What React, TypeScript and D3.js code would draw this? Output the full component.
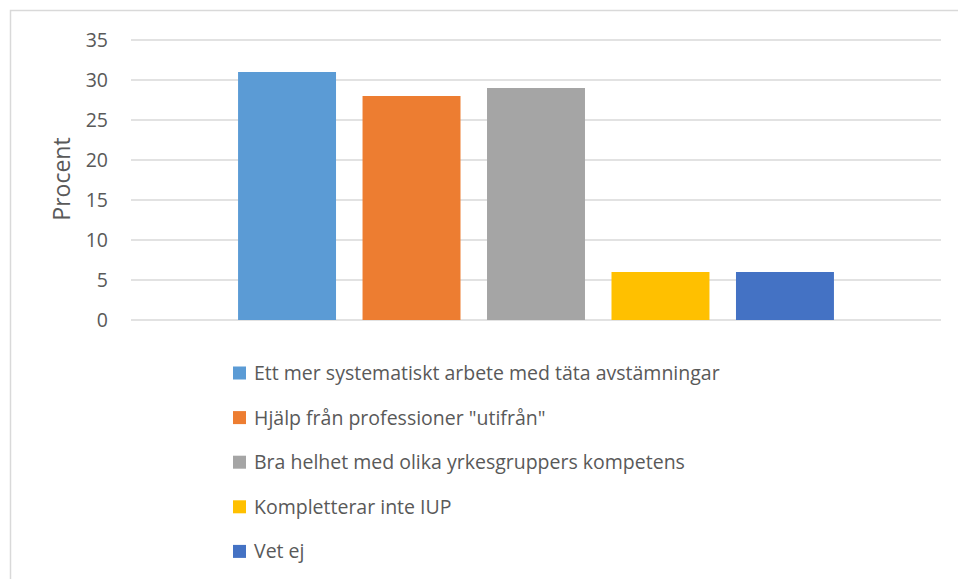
import { useEffect, useRef } from 'react';
import * as d3 from 'd3';

const series = [
  'Ett mer systematiskt arbete med täta avstämningar',
  'Hjälp från professioner "utifrån"',
  'Bra helhet med olika yrkesgruppers kompetens',
  'Kompletterar inte IUP',
  'Vet ej',
];
const values = [31, 28, 29, 6, 6];
const colors = ['#5b9bd5', '#ed7d31', '#a5a5a5', '#ffc000', '#4472c4'];
const yTicks = [0, 5, 10, 15, 20, 25, 30, 35];

function App() {
  const svgRef = useRef<SVGSVGElement>(null);

  useEffect(() => {
    if (!svgRef.current) return;
    const svg = d3.select(svgRef.current);
    svg.selectAll('*').remove();

    const width = 958;
    const height = 579;
    const font = '"Open Sans", sans-serif';
    const textColor = '#595959';

    // chart area border (right/bottom edges fall outside the picture)
    svg.append('rect')
      .attr('x', 10.5).attr('y', 10.5)
      .attr('width', width + 20).attr('height', height)
      .attr('fill', '#fff').attr('stroke', '#d9d9d9').attr('stroke-width', 1.5);

    const left = 131;
    const right = 941;
    const y = d3.scaleLinear().domain([0, 35]).range([320, 40]);
    const x = d3.scaleBand<string>()
      .domain(series)
      .range([left, right])
      .paddingInner(0.213)
      .paddingOuter(0.86);

    svg.append('g')
      .selectAll('line')
      .data(yTicks)
      .join('line')
      .attr('x1', left).attr('x2', right)
      .attr('y1', d => y(d)).attr('y2', d => y(d))
      .attr('stroke', '#d9d9d9').attr('stroke-width', 1.3);

    svg.append('g')
      .selectAll('text')
      .data(yTicks)
      .join('text')
      .attr('x', 108).attr('y', d => y(d))
      .attr('dy', '0.36em')
      .attr('text-anchor', 'end')
      .attr('font-family', font).attr('font-size', 19.5)
      .attr('fill', textColor)
      .text(d => d);

    svg.append('text')
      .attr('transform', `translate(70, 179) rotate(-90)`)
      .attr('text-anchor', 'middle')
      .attr('font-family', font).attr('font-size', 23)
      .attr('fill', textColor)
      .text('Procent');

    svg.append('g')
      .selectAll('rect')
      .data(values)
      .join('rect')
      .attr('x', (d, i) => x(series[i])!)
      .attr('width', x.bandwidth())
      .attr('y', d => y(d))
      .attr('height', d => y(0) - y(d))
      .attr('fill', (d, i) => colors[i]);

    const legend = svg.append('g')
      .selectAll('g')
      .data(series)
      .join('g')
      .attr('transform', (d, i) => `translate(233, ${373 + i * 44.6})`);

    legend.append('rect')
      .attr('x', 0).attr('y', -6.5)
      .attr('width', 13).attr('height', 13)
      .attr('fill', (d, i) => colors[i]);

    legend.append('text')
      .attr('x', 21).attr('y', 0)
      .attr('dy', '0.36em')
      .attr('font-family', font).attr('font-size', 19.5)
      .attr('fill', textColor)
      .text(d => d);
  }, []);

  return (
    <svg ref={svgRef} width={958} height={579}
      style={{ position: 'absolute', left: 0, top: 0, display: 'block' }} />
  );
}

export default App;
